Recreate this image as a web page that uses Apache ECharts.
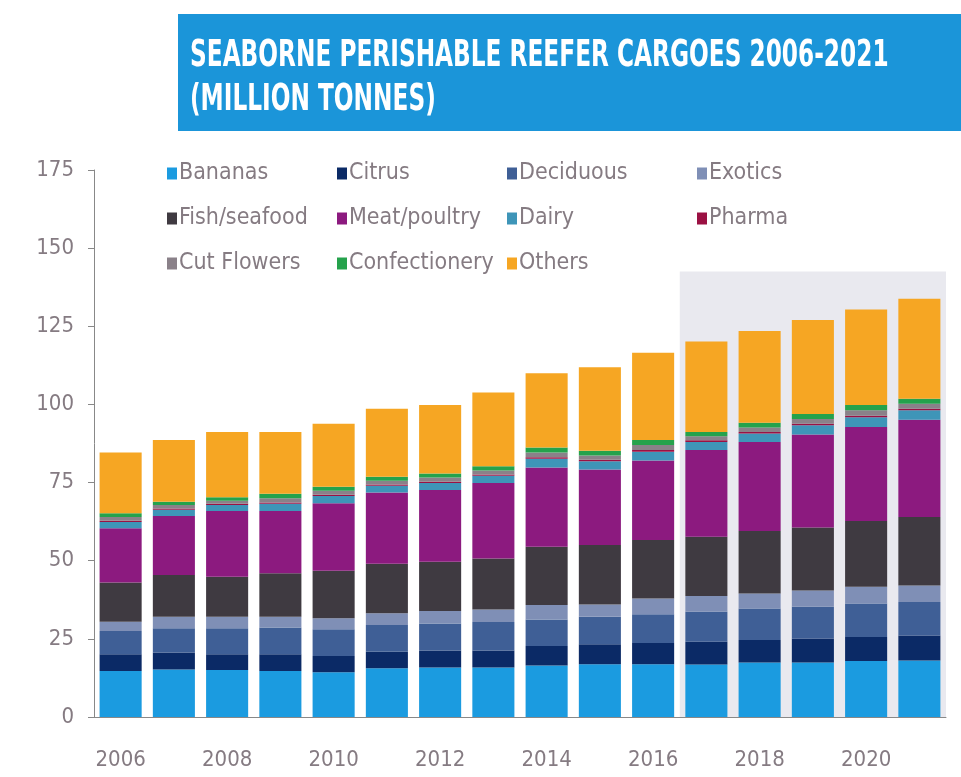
<!DOCTYPE html>
<html>
<head>
<meta charset="utf-8">
<script src="https://cdn.jsdelivr.net/npm/echarts@6/dist/echarts.min.js"></script>
<style>
  html, body { margin: 0; padding: 0; background: #fff; }
  #chart { width: 961px; height: 777px; }
</style>
</head>
<body>
<div id="chart"></div>
<script>
var years = ['2006','2007','2008','2009','2010','2011','2012','2013','2014','2015','2016','2017','2018','2019','2020','2021'];
var yTicks = [0, 25, 50, 75, 100, 125, 150, 175];

var bananas       = [14.7,15.2,15.0,14.7,14.3,15.6,15.8,15.8,16.5,16.9,16.9,16.8,17.4,17.4,17.9,18.1];
var citrus        = [5.4,5.4,5.1,5.4,5.2,5.3,5.5,5.5,6.2,6.4,6.8,7.3,7.2,7.7,7.7,8.0];
var deciduous     = [7.4,7.8,8.3,8.5,8.6,8.5,8.6,9.1,8.5,8.8,9.2,9.6,10.1,10.2,10.7,10.7];
var exotics       = [3.0,3.7,3.7,3.5,3.5,3.8,4.0,4.0,4.6,3.9,5.0,5.0,4.8,5.2,5.4,5.3];
var fish          = [12.5,13.3,12.8,13.9,15.2,15.8,15.8,16.3,18.7,19.0,18.7,19.0,20.0,20.1,21.0,21.9];
var meat          = [17.4,18.9,21.0,19.9,21.6,22.8,22.9,24.2,25.3,24.2,25.5,27.7,28.5,29.8,30.1,31.1];
var dairy         = [2.0,2.0,1.9,2.3,2.3,2.2,2.3,2.3,2.8,2.6,2.8,2.6,2.7,2.9,3.1,3.0];
var pharma        = [0.4,0.4,0.4,0.4,0.4,0.4,0.4,0.4,0.5,0.5,0.5,0.5,0.5,0.5,0.5,0.5];
var cutFlowers    = [1.2,1.1,1.0,1.4,1.3,1.2,1.3,1.3,1.5,1.4,1.6,1.3,1.4,1.5,1.7,1.6];
var confectionery = [1.2,1.1,1.1,1.4,1.3,1.3,1.3,1.3,1.6,1.5,1.6,1.4,1.5,1.6,1.7,1.6];
var others        = [19.4,19.7,20.9,19.8,20.1,21.7,21.9,23.6,23.8,26.7,27.9,28.9,29.4,30.1,30.6,32.0];

var forecastFrom = '2017';
var forecastTo = '2021';

var names = ['Bananas','Citrus','Deciduous','Exotics','Fish/seafood','Meat/poultry','Dairy','Pharma','Cut Flowers','Confectionery','Others'];
var values = [bananas, citrus, deciduous, exotics, fish, meat, dairy, pharma, cutFlowers, confectionery, others];
var colors = ['#1b9be0','#0b2a66','#3f5f96','#7f8fb6','#3f3a41','#8c1a7f','#3e95b8','#9b1143','#8a8189','#25a24c','#f6a623'];

var font = "'DejaVu Sans Condensed','Liberation Sans Narrow','Liberation Sans',sans-serif";
var grey = '#857b82';

var series = names.map(function (n, i) {
    var s = {
        name: n,
        type: 'bar',
        stack: 'total',
        barCategoryGap: '21%',
        itemStyle: { color: colors[i] },
        data: values[i]
    };
    if (i === 0) {
        s.markArea = {
            silent: true,
            itemStyle: { color: '#e9e9ef' },
            data: [[{ xAxis: forecastFrom, yAxis: 0 }, { xAxis: forecastTo, yAxis: 142.5 }]]
        };
    }
    return s;
});

function legendCol(left, items) {
    return {
        orient: 'vertical',
        left: left,
        top: 157,
        itemGap: 22,
        itemWidth: 10,
        itemHeight: 12,
        icon: 'rect',
        selectedMode: false,
        textStyle: { fontFamily: font, fontSize: 23, color: grey, padding: [0, 0, 0, -3] },
        data: items
    };
}

var chart = echarts.init(document.getElementById('chart'));
var option = {
    backgroundColor: '#fff',
    animation: false,
    graphic: [{
        type: 'group',
        left: 178,
        top: 14,
        children: [{
            type: 'rect',
            shape: { width: 790, height: 117 },
            style: { fill: '#1b95d9' }
        }, {
            type: 'text',
            x: 12, y: 23,
            scaleX: 0.68,
            style: {
                text: 'SEABORNE PERISHABLE REEFER CARGOES 2006-2021',
                fill: '#fff', font: "bold 38px " + font, verticalAlign: 'top'
            }
        }, {
            type: 'text',
            x: 12, y: 67,
            scaleX: 0.68,
            style: {
                text: '(MILLION TONNES)',
                fill: '#fff', font: "bold 38px " + font, verticalAlign: 'top'
            }
        }]
    }],
    legend: [
        legendCol(162, ['Bananas','Fish/seafood','Cut Flowers']),
        legendCol(332, ['Citrus','Meat/poultry','Confectionery']),
        legendCol(502, ['Deciduous','Dairy','Others']),
        legendCol(692, ['Exotics','Pharma'])
    ],
    grid: { left: 94, right: 15, top: 170, bottom: 60 },
    xAxis: {
        type: 'category',
        data: years,
        axisLine: { lineStyle: { color: '#888' } },
        axisTick: { alignWithLabel: false, length: 6, lineStyle: { color: '#888' } },
        axisLabel: { interval: 1, fontFamily: font, fontSize: 22, color: grey, margin: 32 }
    },
    yAxis: {
        type: 'value',
        min: 0,
        max: 175,
        interval: 25,
        splitLine: { show: false },
        axisLine: { show: true, lineStyle: { color: '#888' } },
        axisTick: { show: true, length: 6, lineStyle: { color: '#888' } },
        axisLabel: { fontFamily: font, fontSize: 22, color: grey, margin: 20 }
    },
    series: series
};
chart.setOption(option);
window.onresize = function () { chart.resize(); };
</script>
</body>
</html>
